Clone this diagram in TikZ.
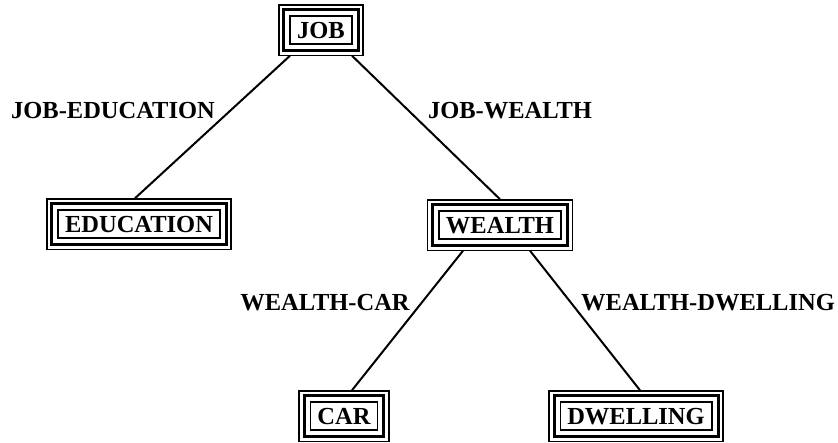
\documentclass[tikz,border=0pt]{standalone}
\usepackage{fontspec}
\setmainfont{Liberation Serif}
\usetikzlibrary{calc}

\tikzset{
  treebox/.style={draw, line width=1.5pt, inner xsep=7pt, inner ysep=6pt,
    text height=16pt, text depth=0pt,
    font=\fontsize{24.5}{24.5}\selectfont\bfseries},
  edgelabel/.style={inner sep=0pt, text height=16pt, text depth=0pt,
    font=\fontsize{24.5}{24.5}\selectfont\bfseries},
  link/.style={line width=2pt},
  midframe/.style={line width=3pt},
  outframe/.style={line width=1.5pt}
}

% frames round a box: a thick one and a thin outer one
\newcommand{\tripleframe}[1]{%
  \draw[midframe] ([shift={(-5.5pt,5.5pt)}]#1.north west) rectangle ([shift={(5.5pt,-5.5pt)}]#1.south east);
  \draw[outframe] ([shift={(-10.5pt,10.5pt)}]#1.north west) rectangle ([shift={(10.5pt,-10.5pt)}]#1.south east);
}

\begin{document}
\begin{tikzpicture}[x=1pt,y=-1pt]
\useasboundingbox (0,0) rectangle (838,442);

\node[treebox] (job)  at (321,30)  {JOB};
\node[treebox] (edu)  at (139,224) {EDUCATION};
\node[treebox] (wea)  at (500,225) {WEALTH};
\node[treebox] (car)  at (344,416) {CAR};
\node[treebox] (dwe)  at (636,416) {DWELLING};

\foreach \n in {job,edu,wea,car,dwe} { \tripleframe{\n} }

\draw[link] ($(job.south)+(-31pt,-11pt)$) -- ($(edu.north)+(-4pt,11pt)$);
\draw[link] ($(job.south)+(31pt,-11pt)$) -- ($(wea.north)+(0pt,11pt)$);
\draw[link] ($(wea.south)+(-37pt,-11pt)$) -- ($(car.north)+(8pt,11pt)$);
\draw[link] ($(wea.south)+(30pt,-11pt)$) -- ($(dwe.north)+(4pt,11pt)$);

\node[edgelabel] (l1) at (113,110) {JOB-EDUCATION};
\node[edgelabel] (l2) at (510,110) {JOB-WEALTH};
\node[edgelabel] (l3) at (325,302) {WEALTH-CAR};
\node[edgelabel] (l4) at (708,302) {WEALTH-DWELLING};
\end{tikzpicture}
\end{document}
